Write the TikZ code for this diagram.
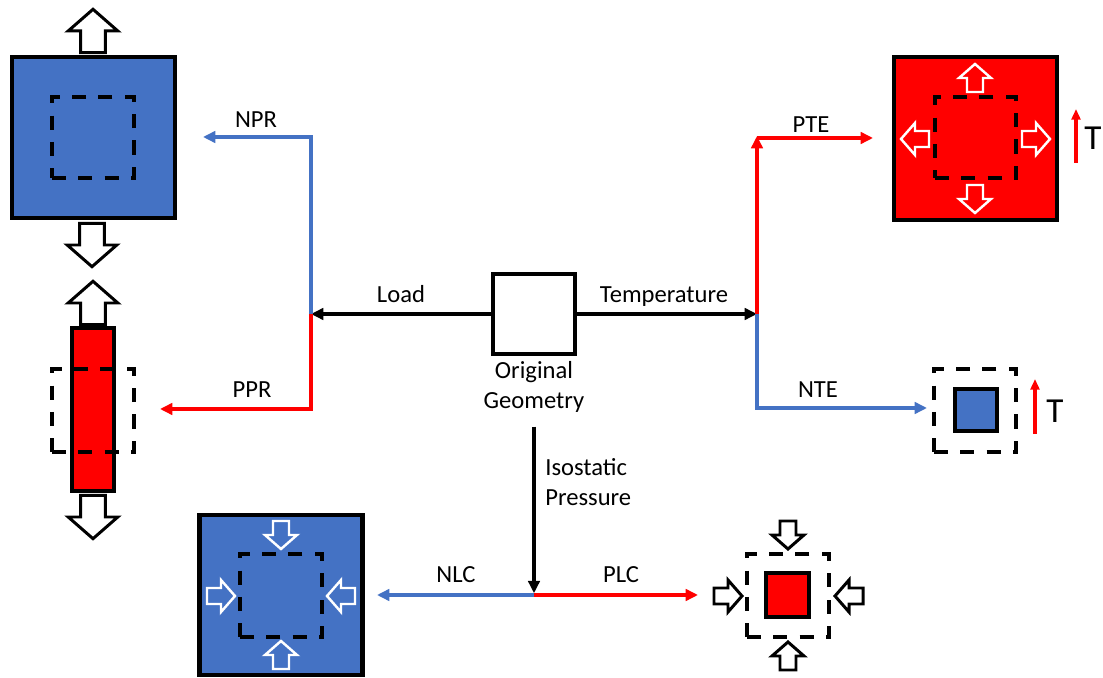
\documentclass[tikz,border=0pt]{standalone}
\usepackage{fontspec}
\setmainfont{Carlito}
\usepackage{tikz}
\usetikzlibrary{arrows.meta, positioning, calc}
\definecolor{geoblue}{HTML}{4472C4}
\definecolor{geored}{HTML}{FF0000}
\tikzset{
  solid box/.style={draw=black, line width=2.4pt, inner sep=0pt},
  dash box/.style={draw=black, line width=2pt, dash pattern=on 8pt off 7pt, inner sep=0pt},
  link/.style={line width=2pt, -{Triangle[length=7pt, width=6.5pt]}},
  lbl/.style={font=\fontsize{14}{17}\selectfont, inner sep=0pt},
  big lbl/.style={font=\fontsize{20}{24}\selectfont, inner sep=0pt},
  rise/.style={geored, line width=2pt, -{Triangle[length=6pt, width=5pt]}},
  pics/hollow/.style={code={\draw[pic actions] (-14,-8) -- (0,-8) -- (0,-16) -- (14,0) -- (0,16) -- (0,8) -- (-14,8) -- cycle;}},
  outer push/.style={draw=black, fill=white, line width=1.7pt, scale=1.55},
  inner push/.style={draw=white, line width=1.4pt},
  side push/.style={draw=black, fill=white, line width=1.7pt},
}

\begin{document}
\begin{tikzpicture}[x=0.02cm, y=-0.02cm]
    \useasboundingbox (0,0) rectangle (1103,678);

    % Original geometry
    \node[solid box, fill=white, minimum width=1.64cm, minimum height=1.6cm] (orig) at (534,314) {};
    \node[lbl, align=center, anchor=north] (origlbl) at (534,361) {Original\\Geometry};

    % Junctions and free ends
    \coordinate (loadj) at (311,314);
    \coordinate (tempj) at (757,314);
    \coordinate (presj) at (534,595);
    \coordinate (nprend) at (203,137);
    \coordinate (pprend) at (160,409);
    \coordinate (ptecorner) at (757,136);
    \coordinate (pteend) at (873,138);
    \coordinate (nteend) at (927,408);
    \coordinate (nlcend) at (377,595);
    \coordinate (plcend) at (698,595);

    % Load branch
    \draw[link] (orig.west) -- (loadj);
    \node[lbl, anchor=base] (loadlbl) at (401,303) {Load};
    \draw[link, geoblue] (loadj) |- (nprend);
    \node[lbl, anchor=base] (nprlbl) at (256,128) {NPR};
    \draw[link, geored] (loadj) |- (pprend);
    \node[lbl, anchor=base] (pprlbl) at (252,398) {PPR};

    % Temperature branch
    \draw[link] (orig.east) -- (tempj);
    \node[lbl, anchor=base] (templbl) at (664,303) {Temperature};
    \draw[link, geored] (tempj) -- (ptecorner);
    \draw[link, geored] (ptecorner |- pteend) -- (pteend);
    \node[lbl, anchor=base] (ptelbl) at (811,133) {PTE};
    \draw[link, geoblue] (tempj) |- (nteend);
    \node[lbl, anchor=base] (ntelbl) at (818,398) {NTE};

    % Pressure branch
    \draw[link, shorten <=8pt, shorten >=1pt] (origlbl.south) -- (presj);
    \node[lbl, align=left, anchor=north west] (preslbl) at (545,458) {Isostatic\\Pressure};
    \draw[link, geoblue] (presj) -- (nlcend);
    \node[lbl, anchor=base] (nlclbl) at (456,583) {NLC};
    \draw[link, geored] (presj) -- (plcend);
    \node[lbl, anchor=base] (plclbl) at (621,583) {PLC};

    % NPR result
    \node[solid box, fill=geoblue, minimum width=3.26cm, minimum height=3.22cm] (nprbox) at (93.5,137.5) {};
    \node[dash box, minimum width=1.64cm, minimum height=1.62cm] (nprdash) at (93,137.5) {};
    \pic[outer push, rotate=90] (nprup) at (93,31) {hollow};
    \pic[outer push, rotate=-90] (nprdown) at (92,245) {hollow};

    % PPR result
    \node[solid box, fill=geored, minimum width=0.84cm, minimum height=3.26cm] (pprbar) at (93,409.5) {};
    \node[dash box, minimum width=1.64cm, minimum height=1.66cm] (pprdash) at (93,410.5) {};
    \pic[outer push, rotate=90] (pprup) at (93,303) {hollow};
    \pic[outer push, rotate=-90] (pprdown) at (93,517) {hollow};

    % PTE result
    \node[solid box, fill=geored, minimum width=3.26cm, minimum height=3.26cm] (ptebox) at (975.5,138.5) {};
    \node[dash box, minimum width=1.62cm, minimum height=1.62cm] (ptedash) at (975.5,137.5) {};
    \pic[inner push, rotate=90] (pteup) at (975,78) {hollow};
    \pic[inner push, rotate=-90] (ptedown) at (975,199) {hollow};
    \pic[inner push, rotate=180] (pteleft) at (915,139) {hollow};
    \pic[inner push] (pteright) at (1036,139) {hollow};
    \coordinate (ptetlo) at (1076,163);
    \coordinate (ptethi) at (1076,109);
    \draw[rise] (ptetlo) -- (ptethi);
    \node[big lbl, anchor=base west] (ptet) at (1084,150) {T};

    % NTE result
    \node[dash box, minimum width=1.64cm, minimum height=1.66cm] (ntedash) at (975,410.5) {};
    \node[solid box, fill=geoblue, minimum width=0.84cm, minimum height=0.84cm] (ntebox) at (976,410) {};
    \coordinate (ntetlo) at (1035,434);
    \coordinate (ntethi) at (1035,379);
    \draw[rise] (ntetlo) -- (ntethi);
    \node[big lbl, anchor=base west] (ntet) at (1046,423) {T};

    % NLC result
    \node[solid box, fill=geoblue, minimum width=3.26cm, minimum height=3.2cm] (nlcbox) at (281,595) {};
    \node[dash box, minimum width=1.64cm, minimum height=1.66cm] (nlcdash) at (281,595.5) {};
    \pic[inner push, rotate=-90] (nlctop) at (281,535) {hollow};
    \pic[inner push, rotate=90] (nlcbottom) at (281,655) {hollow};
    \pic[inner push] (nlcleft) at (221,596) {hollow};
    \pic[inner push, rotate=180] (nlcright) at (341,596) {hollow};

    % PLC result
    \node[dash box, minimum width=1.64cm, minimum height=1.66cm] (plcdash) at (788,595.5) {};
    \node[solid box, fill=geored, minimum width=0.86cm, minimum height=0.88cm] (plcbox) at (787.5,595) {};
    \pic[side push, rotate=-90] (plctop) at (788,535) {hollow};
    \pic[side push, rotate=90] (plcbottom) at (788,656) {hollow};
    \pic[side push] (plcleft) at (728,596) {hollow};
    \pic[side push, rotate=180] (plcright) at (849,596) {hollow};
\end{tikzpicture}
\end{document}
